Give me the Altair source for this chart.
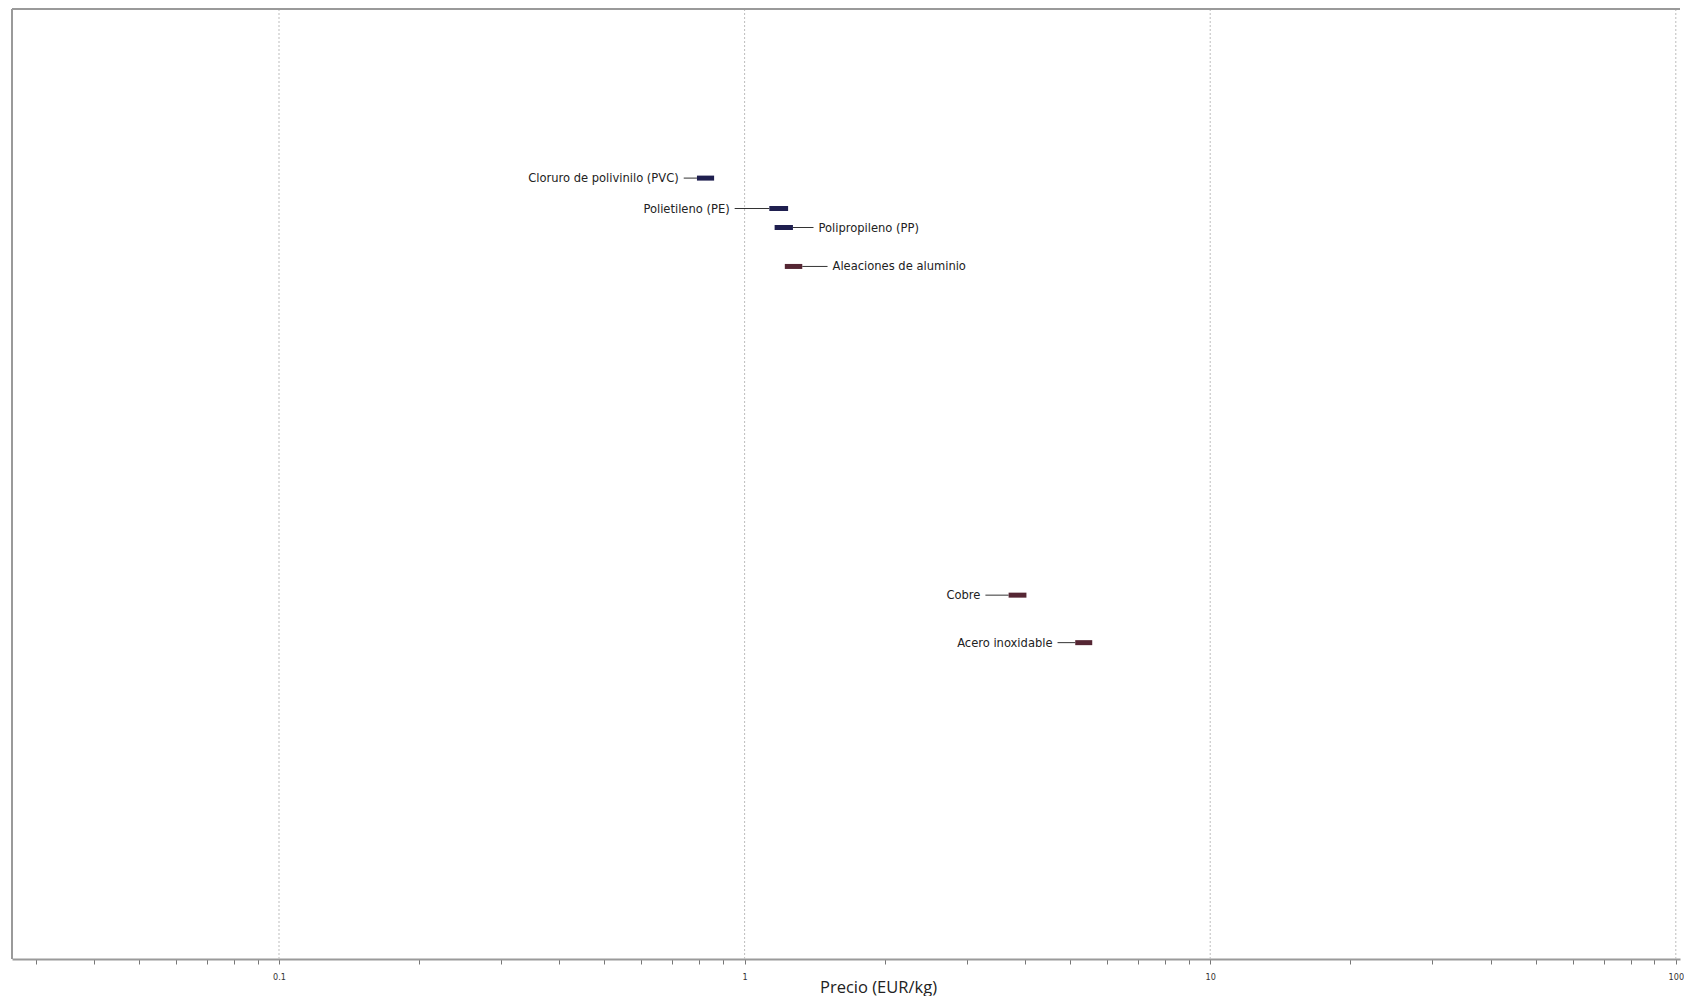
import altair as alt
import pandas as pd

# Materials and their price ranges (EUR/kg)
materials = ["Cloruro de polivinilo (PVC)", "Polietileno (PE)", "Polipropileno (PP)",
             "Aleaciones de aluminio", "Cobre", "Acero inoxidable"]
price_low = [0.79, 1.13, 1.16, 1.22, 3.69, 5.13]
price_high = [0.86, 1.24, 1.27, 1.33, 4.03, 5.58]
# vertical placement (arbitrary 0-100 chart units)
row = [82.2, 79.0, 77.0, 72.9, 38.3, 33.3]
family = ["Polímero", "Polímero", "Polímero", "Metal", "Metal", "Metal"]
# label anchor (end of leader line) in EUR/kg, and side of label
label_x = [0.74, 0.952, 1.406, 1.507, 3.29, 4.70]
label_side = ["left", "left", "right", "right", "left", "left"]

grid_values = [0.1, 1, 10, 100]
tick_values = [m * 10 ** e for e in range(-2, 3) for m in range(1, 10)]
tick_values = [v for v in tick_values if 0.027 <= v <= 102]

df = pd.DataFrame({
    "material": materials, "low": price_low, "high": price_high, "row": row,
    "family": family, "label_x": label_x, "side": label_side,
})
df["bar_end"] = [lo if s == "left" else hi for lo, hi, s in zip(price_low, price_high, label_side)]

W, H = 1668, 950
xscale = alt.Scale(type="log", domain=[0.0267, 102.1], nice=False)
yscale = alt.Scale(domain=[0, 100], nice=False)

xaxis = alt.Axis(
    title="Precio (EUR/kg)", values=tick_values,
    labelExpr="(abs(log(datum.value)/LN10 - round(log(datum.value)/LN10)) < 0.001) ? (datum.value >= 1 ? format(datum.value, 'd') : format(datum.value, '.1f')) : ''",
    grid=False, domainColor="#9a9a9a", domainWidth=2, tickColor="#777777", tickSize=5,
    tickWidth=1, labelFont="DejaVu Sans Condensed", labelFontSize=9, labelColor="#333333",
    labelPadding=8, titleFont="Open Sans", titleFontSize=16.5, titleFontWeight="normal",
    titleColor="#222222", titleX=866, titleY=28, titleBaseline="middle", titleAlign="center",
    titleAnchor="start", labelOverlap=False, labelFlush=False,
)

grid = alt.Chart(pd.DataFrame({"g": grid_values})).mark_rule(
    color="#bdbdbd", strokeDash=[2, 2], strokeWidth=1
).encode(x=alt.X("g:Q", scale=xscale, axis=xaxis))

frame_left = alt.Chart(pd.DataFrame({"a": [0]})).mark_rule(color="#9a9a9a", strokeWidth=2).encode(
    x=alt.value(0), y=alt.value(0), y2=alt.value(H))
frame_top = alt.Chart(pd.DataFrame({"a": [0]})).mark_rule(color="#9a9a9a", strokeWidth=2).encode(
    x=alt.value(0), x2=alt.value(W), y=alt.value(0))

base = alt.Chart(df)

leaders = base.mark_rule(color="#333333", strokeWidth=1).encode(
    x=alt.X("bar_end:Q", scale=xscale),
    x2="label_x:Q",
    y=alt.Y("row:Q", scale=yscale, axis=None),
)

bars = base.mark_rule(strokeWidth=5).encode(
    x=alt.X("low:Q", scale=xscale),
    x2="high:Q",
    y=alt.Y("row:Q", scale=yscale, axis=None),
    color=alt.Color("family:N", scale=alt.Scale(domain=["Polímero", "Metal"],
                                                range=["#1f1f4f", "#552633"]), legend=None),
)

labels_left = base.transform_filter(alt.datum.side == "left").mark_text(
    align="right", baseline="middle", dx=-5, font="DejaVu Sans Condensed", fontSize=12.8, color="#222222"
).encode(x=alt.X("label_x:Q", scale=xscale), y=alt.Y("row:Q", scale=yscale, axis=None), text="material:N")

labels_right = base.transform_filter(alt.datum.side == "right").mark_text(
    align="left", baseline="middle", dx=5, font="DejaVu Sans Condensed", fontSize=12.8, color="#222222"
).encode(x=alt.X("label_x:Q", scale=xscale), y=alt.Y("row:Q", scale=yscale, axis=None), text="material:N")

chart = alt.layer(grid, frame_left, frame_top, leaders, bars, labels_left, labels_right).properties(
    width=W, height=H, padding={"left": 3, "top": 0, "right": 0, "bottom": 0},
    view=alt.ViewBackground(stroke="transparent", strokeWidth=0),
).configure(background="white").configure_view(strokeWidth=0, stroke="transparent")

chart.save("out.html", embed_options={"renderer": "svg", "actions": False})
